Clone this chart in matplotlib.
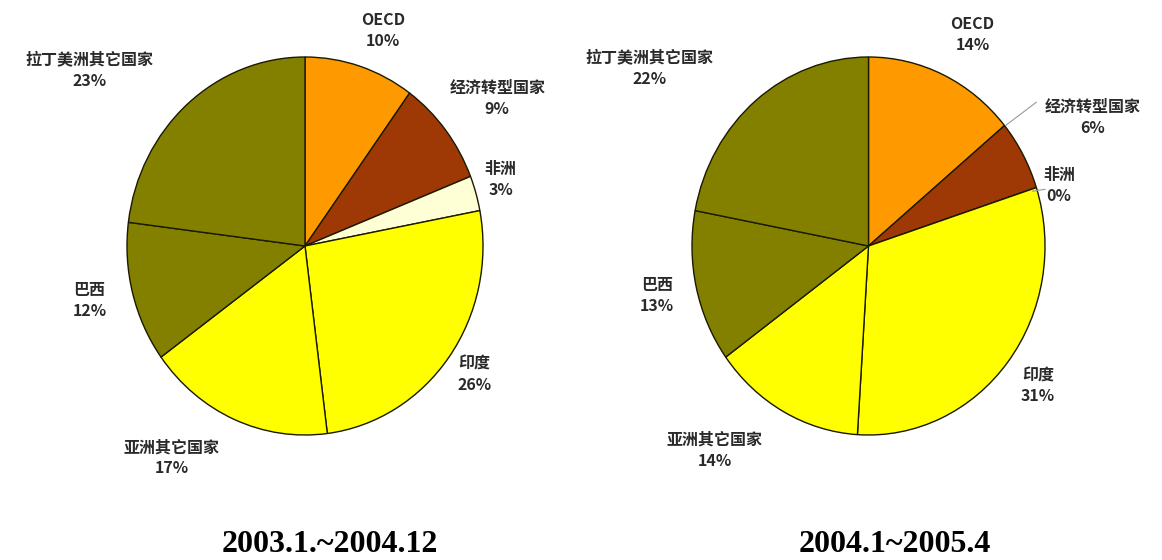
import matplotlib
matplotlib.use("Agg")
import matplotlib.pyplot as plt

plt.rcParams['font.family'] = ['Noto Sans CJK SC', 'DejaVu Sans']

categories = ["OECD", "经济转型国家", "非洲", "印度", "亚洲其它国家", "巴西", "拉丁美洲其它国家"]
values_2003 = [10, 9, 3, 26, 17, 12, 23]
values_2004 = [14, 6, 0, 31, 14, 13, 22]
titles = ["2003.1.~2004.12", "2004.1~2005.4"]

colors = ["#FF9900", "#9E3804", "#FFFFD5", "#FFFF00", "#FFFF00", "#838000", "#838000"]

# label centre positions (data units of a unit-radius pie), layout only
left_label_pos = [(0.44, 1.14), (1.08, 0.78), (1.10, 0.35), (0.95, -0.68),
                  (-0.75, -1.12), (-1.21, -0.29), (-1.21, 0.93)]
right_label_pos = [(0.59, 1.12), (1.27, 0.68), (1.08, 0.32), (0.96, -0.74),
                   (-0.87, -1.08), (-1.20, -0.26), (-1.24, 0.94)]

W, H = 1162, 560
fig = plt.figure(figsize=(W / 100, H / 100), dpi=100)


def make_axes(cx, cy, rx, ry, half=1.6):
    w = 2 * half * rx
    h = 2 * half * ry
    left = cx - w / 2
    bottom = (H - cy) - h / 2
    ax = fig.add_axes([left / W, bottom / H, w / W, h / H])
    ax.axis('off')
    return ax


def draw(ax, vals, label_pos, leaders=None):
    ax.pie(vals, colors=colors, startangle=90, counterclock=False,
           radius=1.0, wedgeprops=dict(edgecolor="#1a1a00", linewidth=1.0),
           normalize=True)
    ax.set_xlim(-1.6, 1.6)
    ax.set_ylim(-1.6, 1.6)
    ax.set_aspect('auto')
    for name, v, (x, y) in zip(categories, vals, label_pos):
        ax.text(x, y, f"{name}\n{v}%", ha="center", va="center",
                fontsize=11.5, fontweight="bold", color="#2a2a2a",
                linespacing=1.4)
    if leaders:
        for (x0, y0), (x1, y1) in leaders:
            ax.plot([x0, x1], [y0, y1], color="#999999", lw=0.8)


ax1 = make_axes(305, 246, 178, 189)
draw(ax1, values_2003, left_label_pos)

ax2 = make_axes(868.5, 246, 176.5, 189)
draw(ax2, values_2004, right_label_pos,
     leaders=[((0.78, 0.64), (0.95, 0.76)), ((1.0, 0.3), (0.93, 0.29))])

fig.text(330 / W, 1 - 545 / H, titles[0], ha="center", va="center",
         fontsize=23, fontweight="bold", family="Liberation Serif")
fig.text(895 / W, 1 - 545 / H, titles[1], ha="center", va="center",
         fontsize=23, fontweight="bold", family="Liberation Serif")

fig.savefig("out.png", dpi=100, facecolor="white")
